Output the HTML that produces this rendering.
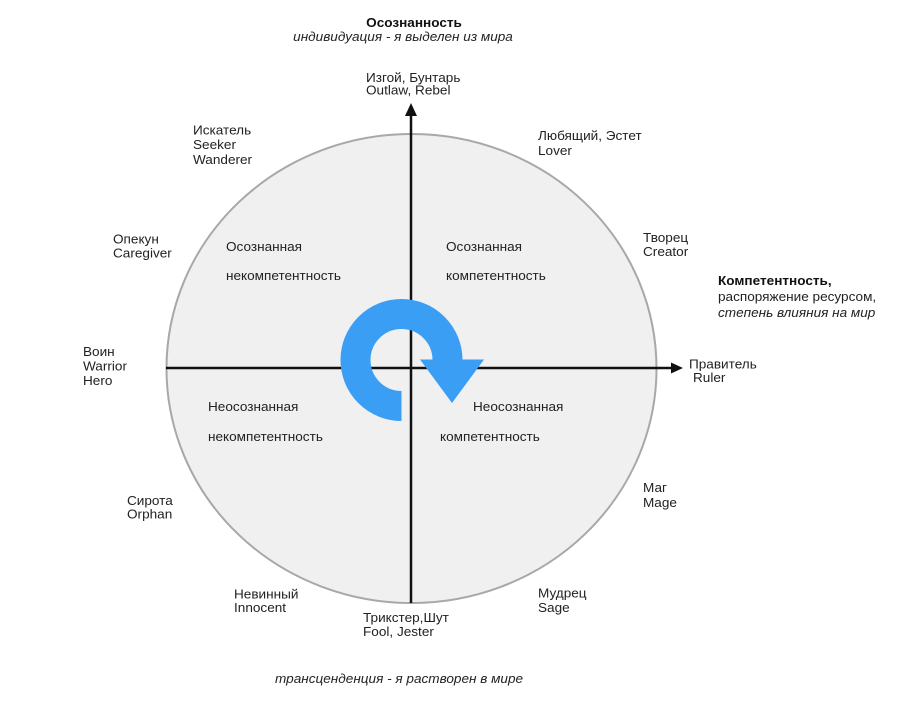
<!DOCTYPE html>
<html>
<head>
<meta charset="utf-8">
<style>
  html, body { margin:0; padding:0; background:#fff; }
  svg { display:block; }
  text { font-family: "Liberation Sans", "Noto Sans CJK SC", sans-serif; font-size:13px; fill:#222; }
  .b { font-weight:bold; fill:#111; }
  .i { font-style:italic; }
</style>
</head>
<body>
<svg width="900" height="707" viewBox="0 0 900 707" xmlns="http://www.w3.org/2000/svg">
  <!-- circle -->
  <ellipse cx="411.5" cy="368.5" rx="245" ry="234.5" fill="#f0f0f0" stroke="#a8a8a8" stroke-width="2"/>

  <!-- axes -->
  <line x1="411" y1="603" x2="411" y2="114" stroke="#111" stroke-width="2.5"/>
  <polygon points="405,116 417,116 411,103" fill="#111"/>
  <line x1="166" y1="368" x2="673" y2="368" stroke="#111" stroke-width="2.5"/>
  <polygon points="671,362.5 671,373.5 683,368" fill="#111"/>

  <!-- blue cycle arrow -->
  <path d="M 401.5 406 A 46 46 0 1 1 447.5 360" fill="none" stroke="#3b9ef5" stroke-width="30" stroke-linecap="butt"/>
  <polygon points="420,359.5 484,359.5 452,403" fill="#3b9ef5"/>

  <!-- top -->
  <text class="b" transform="translate(414,27) scale(1.045,1)" text-anchor="middle">Осознанность</text>
  <text class="i" transform="translate(403,41) scale(1.045,1)" text-anchor="middle">индивидуация - я выделен из мира</text>

  <text transform="translate(366,82) scale(1.045,1)">Изгой, Бунтарь</text>
  <text transform="translate(366,94.5) scale(1.045,1)">Outlaw, Rebel</text>

  <text transform="translate(193,134.5) scale(1.045,1)">Искатель</text>
  <text transform="translate(193,149) scale(1.045,1)">Seeker</text>
  <text transform="translate(193,164) scale(1.045,1)">Wanderer</text>

  <text transform="translate(538,140) scale(1.045,1)">Любящий, Эстет</text>
  <text transform="translate(538,155) scale(1.045,1)">Lover</text>

  <text transform="translate(113,243.5) scale(1.045,1)">Опекун</text>
  <text transform="translate(113,257.5) scale(1.045,1)">Caregiver</text>

  <text transform="translate(643,242) scale(1.045,1)">Творец</text>
  <text transform="translate(643,256) scale(1.045,1)">Creator</text>

  <text transform="translate(226,251) scale(1.045,1)">Осознанная</text>
  <text transform="translate(226,280) scale(1.045,1)">некомпетентность</text>

  <text transform="translate(446,251) scale(1.045,1)">Осознанная</text>
  <text transform="translate(446,280) scale(1.045,1)">компетентность</text>

  <text class="b" transform="translate(718,285) scale(1.045,1)">Компетентность,</text>
  <text transform="translate(718,301) scale(1.045,1)">распоряжение ресурсом,</text>
  <text class="i" transform="translate(718,317) scale(1.045,1)">степень влияния на мир</text>

  <text transform="translate(689,368.5) scale(1.045,1)">Правитель</text>
  <text transform="translate(693,382) scale(1.045,1)">Ruler</text>

  <text transform="translate(83,356) scale(1.045,1)">Воин</text>
  <text transform="translate(83,370.5) scale(1.045,1)">Warrior</text>
  <text transform="translate(83,385) scale(1.045,1)">Hero</text>

  <text transform="translate(208,411) scale(1.045,1)">Неосознанная</text>
  <text transform="translate(208,441) scale(1.045,1)">некомпетентность</text>

  <text transform="translate(473,411) scale(1.045,1)">Неосознанная</text>
  <text transform="translate(440,441) scale(1.045,1)">компетентность</text>

  <text transform="translate(643,492) scale(1.045,1)">Маг</text>
  <text transform="translate(643,507) scale(1.045,1)">Mage</text>

  <text transform="translate(127,505) scale(1.045,1)">Сирота</text>
  <text transform="translate(127,518.5) scale(1.045,1)">Orphan</text>

  <text transform="translate(234,598.5) scale(1.045,1)">Невинный</text>
  <text transform="translate(234,612) scale(1.045,1)">Innocent</text>

  <text transform="translate(363,622) scale(1.045,1)">Трикстер,Шут</text>
  <text transform="translate(363,636) scale(1.045,1)">Fool, Jester</text>

  <text transform="translate(538,597.5) scale(1.045,1)">Мудрец</text>
  <text transform="translate(538,612) scale(1.045,1)">Sage</text>

  <text class="i" transform="translate(275,683) scale(1.045,1)">трансценденция - я растворен в мире</text>
</svg>
</body>
</html>
